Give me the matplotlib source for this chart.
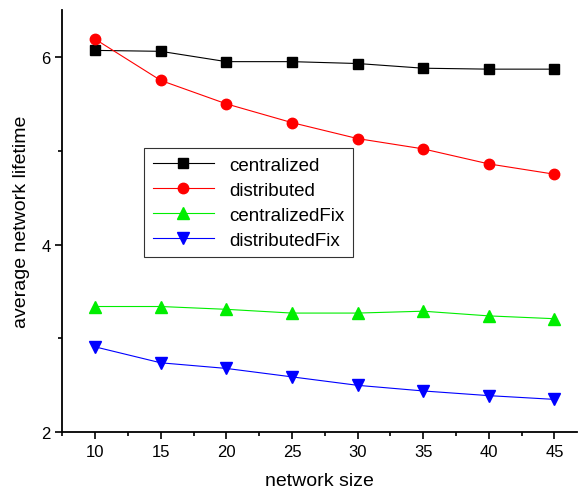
import matplotlib.pyplot as plt

plt.rcParams["font.family"] = ["Liberation Sans", "DejaVu Sans"]

network_size = [10, 15, 20, 25, 30, 35, 40, 45]
centralized = [6.07, 6.06, 5.95, 5.95, 5.93, 5.88, 5.87, 5.87]
distributed = [6.19, 5.75, 5.50, 5.30, 5.13, 5.02, 4.86, 4.75]
centralized_fix = [3.34, 3.34, 3.31, 3.27, 3.27, 3.29, 3.24, 3.21]
distributed_fix = [2.91, 2.74, 2.68, 2.59, 2.50, 2.44, 2.39, 2.35]


def main():
    fig = plt.figure(figsize=(5.82, 5.02), dpi=100)
    ax = fig.add_axes([0.107, 0.137, 0.884, 0.841])

    ax.plot(network_size, centralized, color="black", marker="s", ms=6.5,
            lw=0.8, label="centralized")
    ax.plot(network_size, distributed, color="red", marker="o", ms=7.5,
            lw=0.8, label="distributed")
    ax.plot(network_size, centralized_fix, color="#00ee00", marker="^", ms=8,
            lw=0.8, label="centralizedFix")
    ax.plot(network_size, distributed_fix, color="blue", marker="v", ms=8,
            lw=0.8, label="distributedFix")

    ax.set_xlim(7.5, 46.7)
    ax.set_ylim(2, 6.5)
    ax.set_xticks(network_size)
    ax.set_xticks([7.5, 12.5, 17.5, 22.5, 27.5, 32.5, 37.5, 42.5], minor=True)
    ax.set_yticks([2, 4, 6])
    ax.set_yticks([3, 5], minor=True)
    ax.tick_params(which="major", direction="out", length=5, width=1.2,
                   labelsize=12)
    ax.tick_params(which="minor", direction="out", length=3, width=1.2)

    for side in ("top", "right"):
        ax.spines[side].set_visible(False)
    for side in ("left", "bottom"):
        ax.spines[side].set_linewidth(1.3)

    ax.set_xlabel("network size", fontsize=14, labelpad=9)
    ax.set_ylabel("average network lifetime", fontsize=14, labelpad=8)

    leg = ax.legend(loc="upper left", bbox_to_anchor=(0.159, 0.673),
                    fontsize=13.5, frameon=True, fancybox=False,
                    edgecolor="black", handlelength=3.3, labelspacing=0.42,
                    borderpad=0.45, borderaxespad=0)
    leg.get_frame().set_linewidth(0.8)

    fig.savefig("out.png", dpi=100)


if __name__ == "__main__":
    main()
